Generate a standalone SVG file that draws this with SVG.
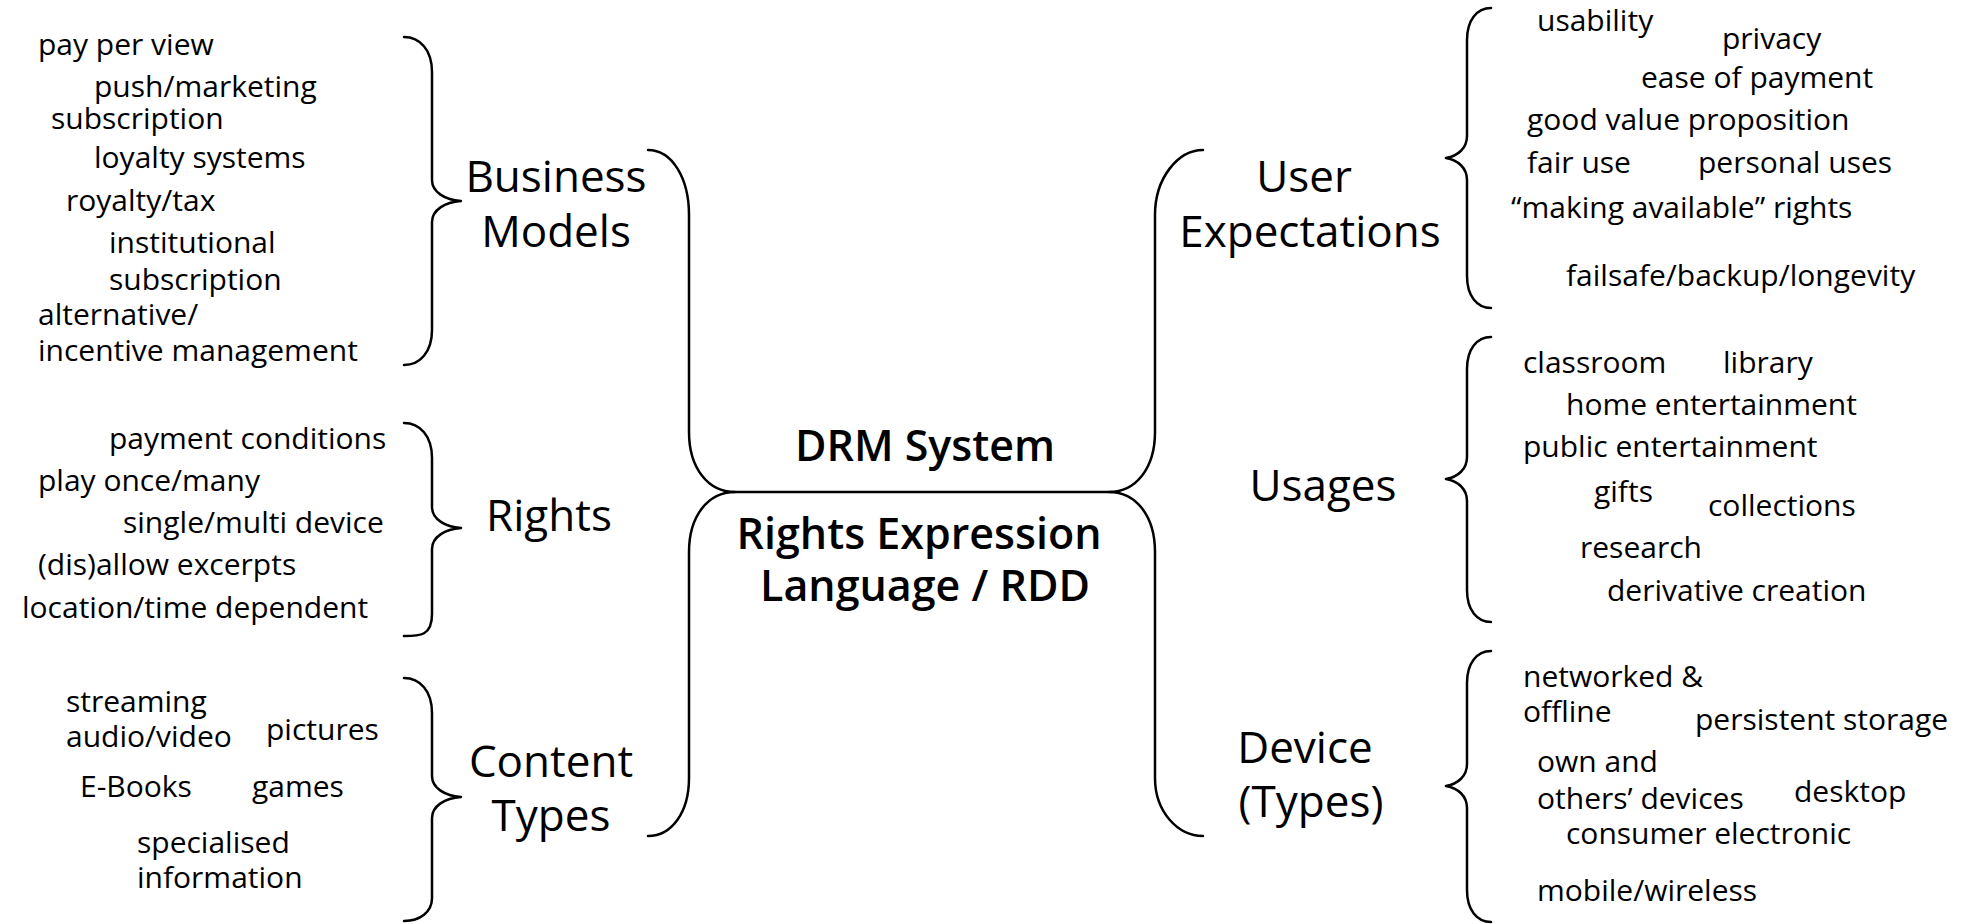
<svg xmlns="http://www.w3.org/2000/svg" width="1965" height="924" viewBox="0 0 1965 924">
<style>
.ln{fill:none;stroke:#000;stroke-width:2.5;stroke-linecap:round;stroke-linejoin:round}
.s{font-family:"Open Sans","Noto Sans","Liberation Sans",sans-serif;font-size:30px;fill:#000}
.b{font-family:"Open Sans","Noto Sans","Liberation Sans",sans-serif;font-size:44px;fill:#000;text-anchor:middle}
.c{font-family:"Open Sans","Noto Sans","Liberation Sans",sans-serif;font-size:43px;font-weight:600;fill:#000;text-anchor:middle}
</style>
<rect width="1965" height="924" fill="#fff"/>
<g id="connectors">
<path class="ln" d="M404,37 C420,37 432,50 432,72 L432,180 C432,192 445,200 461,201 C445,202 432,210 432,222 L432,330 C432,352 420,365 404,365"/>
<path class="ln" d="M404,423 C420,423 432,436 432,458 L432,507 C432,519 445,527 461,528 C445,529 432,537 432,549 L432,614 C432,636 420,636 404,636"/>
<path class="ln" d="M404,678 C420,678 432,691 432,713 L432,776 C432,788 445,796 461,797 C445,798 432,806 432,818 L432,898 C432,912 420,921 404,921"/>
<path class="ln" d="M1491,8 C1477,8 1467,20 1467,40 L1467,136 C1467,148 1458,156 1446,158 C1458,160 1467,168 1467,180 L1467,276 C1467,296 1477,308 1491,308"/>
<path class="ln" d="M1491,337 C1477,337 1467,349 1467,369 L1467,457 C1467,469 1458,477 1446,479 C1458,481 1467,489 1467,501 L1467,590 C1467,610 1477,622 1491,622"/>
<path class="ln" d="M1491,651 C1477,651 1467,663 1467,683 L1467,764 C1467,776 1458,784 1446,786 C1458,788 1467,796 1467,808 L1467,890 C1467,910 1477,922 1491,922"/>
<path class="ln" d="M648,150 C672,150 689,178 689,215 L689,432 C689,468 708,492 735,492 L1109,492 C1136,492 1155,468 1155,432 L1155,215 C1155,178 1178,150 1203,150"/>
<path class="ln" d="M735,492 C708,492 689,516 689,552 L689,778 C689,812 672,836 648,836"/>
<path class="ln" d="M1109,492 C1136,492 1155,516 1155,552 L1155,778 C1155,812 1178,836 1203,836"/>
</g>
<g id="drm-system"><text class="c" x="925" y="461">DRM System</text></g>
<g id="rel-rdd"><text class="c" x="919" y="549">Rights Expression</text><text class="c" x="925" y="601">Language / RDD</text></g>
<g id="business-models"><text class="b" x="556" y="192">Business</text><text class="b" x="556" y="247">Models</text></g>
<g id="rights"><text class="b" x="549" y="531">Rights</text></g>
<g id="content-types"><text class="b" x="551" y="777">Content</text><text class="b" x="551" y="831">Types</text></g>
<g id="user-expectations"><text class="b" x="1304" y="192">User</text><text class="b" x="1310" y="247">Expectations</text></g>
<g id="usages"><text class="b" x="1323" y="501">Usages</text></g>
<g id="device-types"><text class="b" x="1305" y="763">Device</text><text class="b" x="1311" y="817">(Types)</text></g>
<g id="business-items">
<text class="s" x="38" y="55">pay per view</text>
<text class="s" x="94" y="97">push/marketing</text>
<text class="s" x="51" y="129">subscription</text>
<text class="s" x="94" y="168">loyalty systems</text>
<text class="s" x="66" y="211">royalty/tax</text>
<text class="s" x="109" y="253">institutional</text>
<text class="s" x="109" y="290">subscription</text>
<text class="s" x="38" y="325">alternative/</text>
<text class="s" x="38" y="361">incentive management</text>
</g>
<g id="rights-items">
<text class="s" x="109" y="449">payment conditions</text>
<text class="s" x="38" y="491">play once/many</text>
<text class="s" x="123" y="533">single/multi device</text>
<text class="s" x="38" y="575">(dis)allow excerpts</text>
<text class="s" x="22" y="618">location/time dependent</text>
</g>
<g id="content-items">
<text class="s" x="66" y="712">streaming</text>
<text class="s" x="66" y="747">audio/video</text>
<text class="s" x="266" y="740">pictures</text>
<text class="s" x="80" y="797">E-Books</text>
<text class="s" x="252" y="797">games</text>
<text class="s" x="137" y="853">specialised</text>
<text class="s" x="137" y="888">information</text>
</g>
<g id="expectation-items">
<text class="s" x="1537" y="31">usability</text>
<text class="s" x="1722" y="49">privacy</text>
<text class="s" x="1641" y="88">ease of payment</text>
<text class="s" x="1527" y="130">good value proposition</text>
<text class="s" x="1527" y="173">fair use</text>
<text class="s" x="1698" y="173">personal uses</text>
<text class="s" x="1511" y="218">“making available” rights</text>
<text class="s" x="1566" y="286">failsafe/backup/longevity</text>
</g>
<g id="usage-items">
<text class="s" x="1523" y="373">classroom</text>
<text class="s" x="1723" y="373">library</text>
<text class="s" x="1566" y="415">home entertainment</text>
<text class="s" x="1523" y="457">public entertainment</text>
<text class="s" x="1594" y="502">gifts</text>
<text class="s" x="1708" y="516">collections</text>
<text class="s" x="1580" y="558">research</text>
<text class="s" x="1607" y="601">derivative creation</text>
</g>
<g id="device-items">
<text class="s" x="1523" y="687">networked &amp;</text>
<text class="s" x="1523" y="722">offline</text>
<text class="s" x="1695" y="730">persistent storage</text>
<text class="s" x="1537" y="772">own and</text>
<text class="s" x="1537" y="809">others’ devices</text>
<text class="s" x="1794" y="802">desktop</text>
<text class="s" x="1566" y="844">consumer electronic</text>
<text class="s" x="1537" y="901">mobile/wireless</text>
</g>
</svg>
